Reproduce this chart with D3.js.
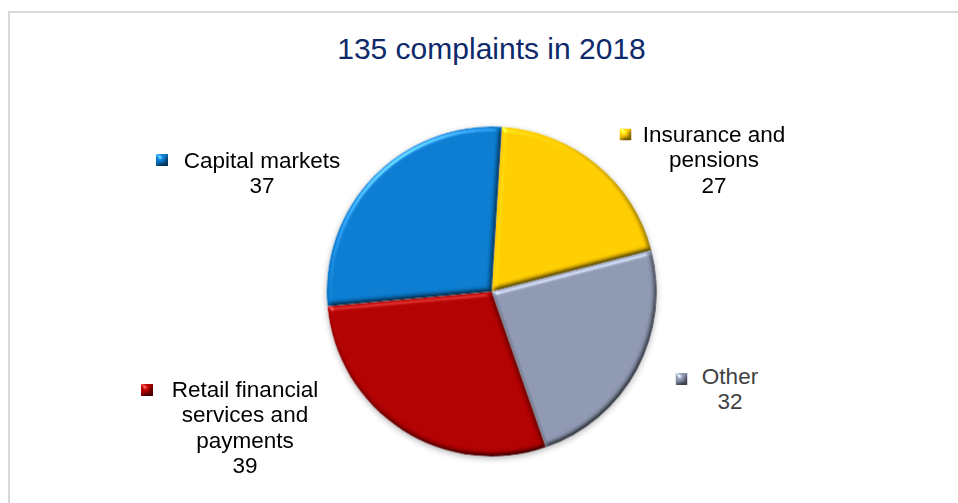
<!DOCTYPE html>
<html>
<head>
<meta charset="utf-8">
<script src="https://cdn.jsdelivr.net/npm/d3@7"></script>
<style>
  html, body { margin: 0; padding: 0; background: #fff; }
  svg { display: block; font-family: "Liberation Sans", Arial, sans-serif; }
</style>
</head>
<body>
<svg id="chart" width="958" height="503"></svg>
<script>
const title = "135 complaints in 2018";
const categories = ["Insurance and pensions", "Other", "Retail financial services and payments", "Capital markets"];
const values = [27, 32, 39, 37];
const colors = ["#FFCC00", "#8D97B0", "#B00000", "#0A7BCF"];
const labelLines = [
  ["Insurance and", "pensions"],
  ["Other"],
  ["Retail financial", "services and", "payments"],
  ["Capital markets"]
];

const svg = d3.select("#chart");
const W = 958, H = 503;

// frame
svg.append("rect").attr("x", 9).attr("y", 12).attr("width", W + 20).attr("height", H + 20)
  .attr("fill", "none").attr("stroke", "#d9d9d9").attr("stroke-width", 2);

// title
svg.append("text").attr("x", 491.5).attr("y", 59).attr("text-anchor", "middle")
  .attr("font-size", 30).attr("fill", "#0E2A6A").text(title);

const defs = svg.append("defs");
const f = defs.append("filter").attr("id", "bevel").attr("color-interpolation-filters", "sRGB")
  .attr("x", "-10%").attr("y", "-10%").attr("width", "120%").attr("height", "120%");
f.append("feGaussianBlur").attr("in", "SourceAlpha").attr("stdDeviation", 2.5).attr("result", "blur");
f.append("feSpecularLighting").attr("in", "blur").attr("surfaceScale", 3).attr("specularConstant", 0.6)
  .attr("specularExponent", 30).attr("lighting-color", "#ffffff").attr("result", "spec")
  .append("feDistantLight").attr("azimuth", 235).attr("elevation", 35);
f.append("feComposite").attr("in", "spec").attr("in2", "SourceAlpha").attr("operator", "in").attr("result", "specOut");
f.append("feDiffuseLighting").attr("in", "blur").attr("surfaceScale", 3).attr("diffuseConstant", 1.155)
  .attr("lighting-color", "#ffffff").attr("result", "diff")
  .append("feDistantLight").attr("azimuth", 235).attr("elevation", 60);
f.append("feComposite").attr("in", "SourceGraphic").attr("in2", "diff").attr("operator", "arithmetic")
  .attr("k1", 1.0).attr("k2", 0).attr("k3", 0).attr("k4", 0).attr("result", "lit");
f.append("feComposite").attr("in", "lit").attr("in2", "SourceAlpha").attr("operator", "in").attr("result", "litIn");
f.append("feComposite").attr("in", "litIn").attr("in2", "specOut").attr("operator", "arithmetic")
  .attr("k1", 0).attr("k2", 1).attr("k3", 0.7).attr("k4", 0);

const sh = defs.append("filter").attr("id", "shadow").attr("color-interpolation-filters", "sRGB")
  .attr("x", "-20%").attr("y", "-20%").attr("width", "140%").attr("height", "140%");
sh.append("feGaussianBlur").attr("in", "SourceAlpha").attr("stdDeviation", 3).attr("result", "b");
sh.append("feOffset").attr("in", "b").attr("dx", 0).attr("dy", 2).attr("result", "o");
sh.append("feComponentTransfer").attr("in", "o").attr("result", "o2")
  .append("feFuncA").attr("type", "linear").attr("slope", 0.3);
const m = sh.append("feMerge");
m.append("feMergeNode").attr("in", "o2");
m.append("feMergeNode").attr("in", "SourceGraphic");

const cx = 491.7, cy = 291.5, R = 165;
const startDeg = 3.5;
const pie = d3.pie().sort(null).value(d => d)
  .startAngle(startDeg * Math.PI / 180).endAngle((360 + startDeg) * Math.PI / 180);
const arc = d3.arc().innerRadius(0).outerRadius(R);
const arcs = pie(values);

const g = svg.append("g").attr("transform", `translate(${cx},${cy})`);
const sg = g.append("g").attr("filter", "url(#shadow)");
sg.selectAll("path").data(arcs).join("path")
  .attr("d", arc).attr("fill", (d, i) => colors[i]).attr("filter", "url(#bevel)");

// labels
const labelPos = [
  { x: 714, y: 142, mx: 625.5, my: 134.5 },
  { x: 730, y: 384, mx: 681.5, my: 379 },
  { x: 245, y: 397, mx: 147, my: 390 },
  { x: 262, y: 168, mx: 162, my: 160 }
];
const lh = 25.3;
categories.forEach((c, i) => {
  const p = labelPos[i];
  const lines = labelLines[i];
  const col = i === 1 ? "#404040" : "#000";
  const t = svg.append("text").attr("font-size", 22.5).attr("fill", col).attr("text-anchor", "middle");
  lines.forEach((ln, k) => {
    t.append("tspan").attr("x", p.x).attr("y", p.y + k * lh).text(ln);
  });
  t.append("tspan").attr("x", p.x).attr("y", p.y + lines.length * lh).text(values[i]);
  svg.append("rect").attr("x", p.mx - 6).attr("y", p.my - 6).attr("width", 12).attr("height", 12)
    .attr("fill", colors[i]).attr("filter", "url(#bevel)");
});
</script>
</body>
</html>
